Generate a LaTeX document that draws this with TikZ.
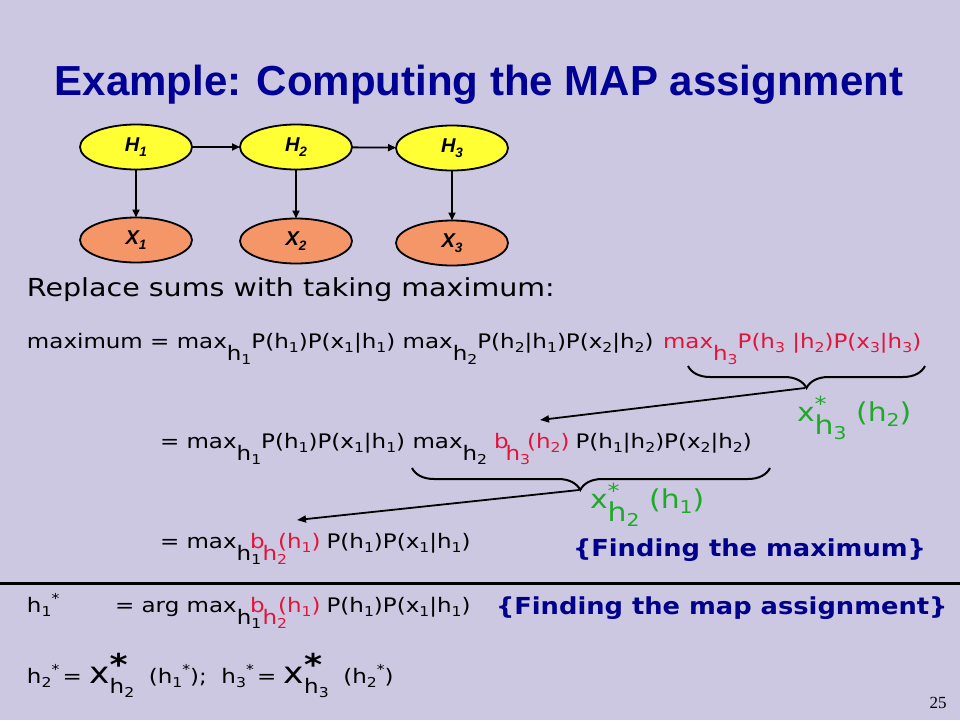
\documentclass[tikz,border=0pt]{standalone}
\usepackage{fontspec}
\usepackage{graphicx}
\setmainfont{DejaVu Sans}[FakeStretch=1.15]
\newfontfamily\titlefont{Liberation Sans}
\newfontfamily\notefont{DejaVu Sans}[FakeStretch=1.1]
\newfontfamily\nodefont{Liberation Sans}
\newfontfamily\numfont{Liberation Serif}
\usetikzlibrary{shapes.geometric,arrows.meta,decorations.pathreplacing}
\definecolor{bgc}{RGB}{205,200,226}
\definecolor{ttl}{RGB}{0,0,150}
\definecolor{nav}{RGB}{0,0,140}
\definecolor{crim}{RGB}{225,20,60}
\definecolor{grn}{RGB}{30,170,40}
\definecolor{yel}{RGB}{255,255,51}
\definecolor{sal}{RGB}{245,150,105}
\newcommand\fs[1]{\fontsize{#1}{#1}\selectfont}
\newcommand\dn[1]{\raisebox{-0.22em}{\scalebox{0.68}{#1}}}
\newcommand\lo[1]{\raisebox{-0.62em}{#1}}
\newcommand\up[1]{\raisebox{0.45em}{\scalebox{0.68}{#1}}}
\newcommand\stk[2]{\rlap{\raisebox{0.38em}{#1}}\raisebox{-0.5em}{#2}}
\begin{document}
\begin{tikzpicture}[x=1pt,y=-1pt,
  every node/.style={inner sep=0pt,outer sep=0pt},
  txt/.style={anchor=base west,font=\fs{20}},
  gv/.style={ellipse,draw=black,line width=1.8pt,minimum width=112pt,minimum height=45pt,font=\nodefont\bfseries\itshape\fs{20}},
  hid/.style={gv,fill=yel},
  obs/.style={gv,fill=sal},
  conn/.style={line width=1.8pt,-{Triangle[length=8pt,width=7pt]}},
  longarr/.style={line width=1.8pt,-{Triangle[length=9pt,width=7pt]}},
  brc/.style={line width=2pt,decorate,decoration={brace,mirror,amplitude=22pt}},
  note/.style={anchor=base west,font=\notefont\bfseries\fs{23.4},text=nav}]
\fill[bgc] (0,0) rectangle (960,720);
\useasboundingbox (0,0) rectangle (960,720);
% title
\node[anchor=base,font=\titlefont\bfseries\fs{42},text=ttl] (title) at (479,95) {Example: Computing the MAP assignment};
% graph
\node[hid] (H1) at (136,147) {H\dn{1}};
\node[hid] (H2) at (296,147) {H\dn{2}};
\node[hid] (H3) at (452,148) {H\dn{3}};
\node[obs] (X1) at (136,240) {X\dn{1}};
\node[obs] (X2) at (296,241) {X\dn{2}};
\node[obs] (X3) at (452,243) {X\dn{3}};
\draw[conn] (H1) -- (H2);
\draw[conn] (H2) -- (H3);
\draw[conn] (H1) -- (X1);
\draw[conn] (H2) -- (X2);
\draw[conn] (H3) -- (X3);
% heading
\node[anchor=base west,font=\fs{24.8}] (rep) at (27,296) {Replace sums with taking maximum:};
% line 1
\node[txt] (L1a) at (27,348) {maximum = max\lo{h\dn{1}}P(h\dn{1})P(x\dn{1}|h\dn{1}) max\lo{h\dn{2}}P(h\dn{2}|h\dn{1})P(x\dn{2}|h\dn{2})};
\node[txt,text=crim] (L1b) at (663,348) {max\lo{h\dn{3}}P(h\dn{3} |h\dn{2})P(x\dn{3}|h\dn{3})};
\coordinate (b1l) at (688,366);
\coordinate (b1r) at (925,366);
\draw[brc] (b1l) -- (b1r);
\coordinate (t1) at (805,388);
\coordinate (a1) at (540,420);
\draw[longarr] (t1) -- (a1);
\node[anchor=base west,font=\fs{26},text=grn] (G1) at (797,421) {x\stk{\scalebox{0.8}{*}}{h\dn{3}}\ (h\dn{2})};
% line 2
\node[txt] (L2a) at (160,448) {= max\lo{h\dn{1}}P(h\dn{1})P(x\dn{1}|h\dn{1}) max\lo{h\dn{2}}};
\node[txt,text=crim] (L2b) at (494,448) {b\kern-0.15em\lo{h\dn{3}}\kern-0.15em(h\dn{2})};
\node[txt] (L2c) at ([xshift=6pt]L2b.base east) {P(h\dn{1}|h\dn{2})P(x\dn{2}|h\dn{2})};
\coordinate (b2l) at (412,468);
\coordinate (b2r) at (770,468);
\draw[brc,decoration={aspect=0.47}] (b2l) -- (b2r);
\coordinate (t2) at (579,490);
\coordinate (a2) at (297,520);
\draw[longarr] (t2) -- (a2);
\node[anchor=base west,font=\fs{26},text=grn] (G2) at (590,508) {x\stk{\scalebox{0.8}{*}}{h\dn{2}}\ (h\dn{1})};
% line 3
\node[txt] (L3a) at (160,548) {= max\lo{h\dn{1}}};
\node[txt,text=crim] (L3b) at (250,548) {b\kern-0.1em\lo{h\dn{2}}\kern-0.45em(h\dn{1})};
\node[txt] (L3c) at ([xshift=6pt]L3b.base east) {P(h\dn{1})P(x\dn{1}|h\dn{1})};
\node[note] (N1) at (573,556) {\{Finding the maximum\}};
% rule
\coordinate (rl) at (0,583);
\coordinate (rr) at (960,583);
\draw[line width=3pt] (rl) -- (rr);
% line 4
\node[txt] (L4a) at (27,612) {h\dn{1}\up{*}};
\node[txt] (L4b) at (115,612) {= arg max\lo{h\dn{1}}};
\node[txt,text=crim] (L4c) at (250,612) {b\kern-0.1em\lo{h\dn{2}}\kern-0.45em(h\dn{1})};
\node[txt] (L4d) at ([xshift=6pt]L4c.base east) {P(h\dn{1})P(x\dn{1}|h\dn{1})};
\node[note] (N2) at (496,614) {\{Finding the map assignment\}};
% line 5
\node[txt] (L5) at (27,683) {h\dn{2}\up{*}\,= {\fs{30}x}\stk{{\fs{30}\bfseries *}}{h\dn{2}}\ \ (h\dn{1}\up{*});\ \ h\dn{3}\up{*}\,= {\fs{30}x}\stk{{\fs{30}\bfseries *}}{h\dn{3}}\ \ (h\dn{2}\up{*})};
% page number
\node[anchor=base,font=\numfont\fs{17}] (pg) at (938,708) {25};
\end{tikzpicture}
\end{document}
